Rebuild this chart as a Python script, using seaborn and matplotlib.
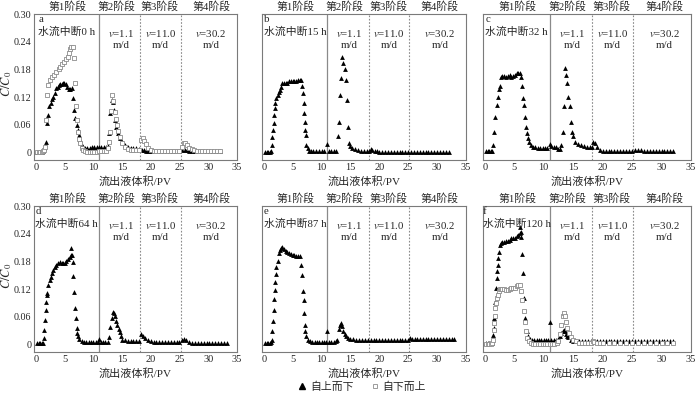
import numpy as np
import pandas as pd
import matplotlib
matplotlib.use("Agg")
import matplotlib.pyplot as plt
import matplotlib.transforms as mtransforms
from matplotlib.lines import Line2D
import seaborn as sns

sns.set_theme(style="white")
plt.rcParams["font.family"] = ["Liberation Serif", "Noto Sans CJK SC"]
plt.rcParams["mathtext.fontset"] = "stix"
plt.rcParams["axes.unicode_minus"] = False

# ---------------- data ----------------
panel_letters = ["a", "b", "c", "d", "e", "f"]
interrupt_hours = ["0 h", "15 h", "32 h", "64 h", "87 h", "120 h"]
stage_labels = ["第1阶段", "第2阶段", "第3阶段", "第4阶段"]
stage_label_x = [5.5, 14.0, 21.6, 30.5]
velocity_values = ["1.1", "11.0", "30.2"]
velocity_x = [14.8, 21.7, 30.5]
stage_bounds = [11.0, 18.2, 25.2]
x_ticks = [0, 5, 10, 15, 20, 25, 30, 35]
y_ticks = [0, 0.06, 0.12, 0.18, 0.24, 0.30]
y_tick_labels = ["0", "0.06", "0.12", "0.18", "0.24", "0.30"]
series_names = ["自上而下", "自下而上"]

a_down = [(0.2,.002),(0.5,.002),(0.8,.002),(1.1,.002),(1.3,.003),(1.5,.010),(1.7,.024),(1.9,.063),(2.1,.081),(2.3,.100),
          (2.6,.107),(2.8,.115),(3.0,.121),(3.3,.128),(3.6,.139),(3.8,.143),(4.0,.146),(4.3,.148),(4.5,.149),(4.8,.150),
          (5.0,.151),(5.2,.148),(5.4,.141),(5.7,.137),(6.0,.137),(6.3,.139),(6.5,.118),(6.7,.092),(6.9,.074),(7.1,.060),
          (7.3,.049),(7.5,.038),(7.7,.027),(8.0,.017),(8.3,.012),(8.6,.009),(9.0,.009),(9.4,.010),(9.8,.012),(10.2,.013),
          (10.6,.013),(11.0,.013),(11.4,.012),(11.8,.012),(12.2,.012),(12.5,.014),(12.8,.042),(13.0,.085),(13.2,.114),(13.4,.110),
          (13.6,.092),(13.8,.070),(14.0,.056),(14.3,.042),(14.6,.031),(15.0,.024),(15.5,.017),(16.0,.013),(16.5,.011),(17.0,.010),
          (17.5,.009),(18.0,.008),(18.4,.006),(18.8,.005),(19.2,.004),(19.6,.004),(20.0,.003),(20.5,.003),(21.0,.003),(21.5,.003),
          (22.0,.003),(22.5,.003),(23.0,.003),(23.5,.003),(24.0,.003),(24.5,.003),(25.0,.003),(25.5,.005),(25.9,.006),(26.3,.005),
          (26.7,.004),(27.2,.003),(27.7,.003),(28.2,.003),(28.7,.003),(29.2,.003),(29.7,.003),(30.2,.003),(30.7,.003),(31.2,.003),
          (31.7,.003),(32.0,.003)]
a_up = [(0.2,.002),(0.5,.002),(0.8,.002),(1.1,.002),(1.3,.003),(1.5,.006),(1.6,.012),(1.8,.070),(2.0,.125),(2.2,.146),
        (2.5,.157),(2.8,.163),(3.2,.168),(3.6,.175),(4.0,.182),(4.3,.186),(4.6,.191),(5.0,.197),(5.3,.202),(5.6,.208),
        (5.8,.215),(6.0,.224),(6.2,.229),(6.4,.229),(6.7,.204),(6.9,.150),(7.0,.100),(7.1,.070),(7.3,.045),(7.5,.030),
        (7.7,.020),(8.0,.010),(8.3,.005),(8.6,.003),(9.0,.002),(9.4,.002),(9.8,.002),(10.2,.002),(10.6,.002),(11.0,.003),
        (11.4,.003),(11.8,.003),(12.2,.004),(12.5,.010),(12.7,.022),(12.9,.045),(13.1,.090),(13.3,.125),(13.5,.112),(13.7,.088),
        (13.9,.072),(14.1,.060),(14.3,.047),(14.6,.033),(15.0,.021),(15.5,.012),(16.0,.008),(16.5,.006),(17.0,.005),(17.5,.005),
        (18.0,.005),(18.3,.028),(18.6,.031),(18.9,.025),(19.2,.018),(19.6,.011),(20.0,.006),(20.5,.004),(21.0,.003),(21.5,.003),
        (22.0,.003),(22.5,.003),(23.0,.003),(23.5,.003),(24.0,.003),(24.5,.003),(25.0,.003),(25.4,.012),(25.7,.020),(26.0,.021),
        (26.3,.016),(26.7,.011),(27.1,.007),(27.5,.005),(28.0,.003),(28.5,.003),(29.0,.003),(29.5,.003),(30.0,.003),(30.5,.003),
        (31.0,.003),(31.5,.003),(32.0,.003)]
b_down = [(0.2,.002),(0.5,.002),(0.8,.002),(1.1,.002),(1.3,.003),(1.4,.017),(1.5,.033),(1.6,.049),(1.7,.063),(1.8,.081),
          (1.9,.096),(2.0,.107),(2.2,.118),(2.4,.125),(2.6,.132),(2.8,.136),(3.0,.143),(3.2,.150),(3.5,.151),(3.8,.151),
          (4.1,.151),(4.4,.154),(4.7,.154),(5.0,.154),(5.3,.155),(5.6,.156),(5.9,.157),(6.2,.157),(6.5,.157),(6.6,.144),
          (6.8,.128),(6.9,.107),(7.0,.085),(7.1,.067),(7.2,.049),(7.3,.038),(7.4,.017),(7.6,.009),(7.8,.004),(8.1,.003),
          (8.5,.003),(9.0,.003),(9.5,.003),(10.0,.003),(10.5,.003),(11.0,.019),(11.3,.003),(11.7,.003),(12.1,.003),(12.5,.003),
          (12.8,.035),(13.0,.067),(13.2,.125),(13.4,.161),(13.6,.208),(13.8,.193),(14.0,.180),(14.2,.157),(14.4,.114),(14.6,.056),
          (14.8,.020),(15.0,.014),(15.3,.011),(15.8,.007),(16.3,.005),(16.8,.004),(17.3,.003),(17.8,.003),(18.2,.004),(18.5,.008),
          (18.8,.006),(19.2,.004),(19.6,.003),(20.0,.002),(20.5,.002),(21.0,.002),(21.5,.002),(22.0,.002),(22.5,.002),(23.0,.002),
          (23.5,.002),(24.0,.002),(24.5,.002),(25.0,.002),(25.5,.002),(26.0,.002),(26.5,.002),(27.0,.002),(27.5,.002),(28.0,.002),
          (28.5,.002),(29.0,.002),(29.5,.002),(30.0,.002),(30.5,.002),(31.0,.002),(31.5,.002),(32.0,.002)]
c_down = [(0.2,.003),(0.5,.003),(0.8,.003),(1.1,.003),(1.3,.004),(1.4,.017),(1.6,.045),(1.8,.078),(2.0,.103),(2.2,.121),
          (2.4,.137),(2.6,.144),(2.8,.163),(3.0,.166),(3.3,.165),(3.6,.164),(3.9,.166),(4.2,.167),(4.5,.163),(4.8,.165),
          (5.1,.168),(5.4,.172),(5.7,.173),(6.0,.172),(6.2,.163),(6.3,.144),(6.5,.118),(6.7,.103),(6.8,.078),(7.0,.056),
          (7.1,.042),(7.3,.031),(7.5,.024),(7.8,.017),(8.2,.013),(8.6,.012),(9.0,.011),(9.4,.011),(9.8,.011),(10.2,.011),
          (10.6,.011),(11.0,.019),(11.3,.015),(11.7,.013),(12.1,.012),(12.5,.008),(12.8,.007),(13.0,.017),(13.2,.045),(13.4,.100),
          (13.6,.183),(13.8,.168),(14.0,.150),(14.2,.121),(14.4,.100),(14.6,.067),(14.8,.045),(15.0,.035),(15.3,.024),(15.8,.019),
          (16.3,.016),(16.8,.014),(17.3,.013),(17.8,.013),(18.2,.013),(18.4,.024),(18.7,.020),(19.0,.013),(19.5,.006),(20.0,.003),
          (20.5,.003),(21.0,.003),(21.5,.003),(22.0,.003),(22.5,.003),(23.0,.003),(23.5,.003),(24.0,.003),(24.5,.003),(25.0,.004),
          (25.5,.005),(26.0,.005),(26.5,.005),(27.0,.004),(27.5,.003),(28.0,.003),(28.5,.003),(29.0,.003),(29.5,.003),(30.0,.003),
          (30.5,.003),(31.0,.003),(31.5,.003),(32.0,.003)]
d_down = [(0.2,.003),(0.5,.003),(0.8,.003),(1.1,.003),(1.3,.004),(1.4,.014),(1.5,.032),(1.6,.054),(1.7,.075),(1.8,.093),
          (1.9,.108),(2.0,.111),(2.2,.129),(2.4,.140),(2.6,.147),(2.8,.154),(3.0,.162),(3.3,.167),(3.6,.172),(3.9,.177),
          (4.2,.178),(4.5,.176),(4.8,.176),(5.1,.177),(5.3,.181),(5.6,.185),(5.9,.190),(6.1,.194),(6.2,.209),(6.3,.195),
          (6.4,.179),(6.5,.149),(6.7,.113),(6.8,.080),(7.0,.057),(7.1,.037),(7.2,.025),(7.4,.018),(7.6,.013),(8.0,.007),
          (8.4,.006),(8.8,.006),(9.2,.006),(9.6,.006),(10.0,.006),(10.4,.006),(10.8,.006),(11.0,.012),(11.3,.005),(11.7,.005),
          (12.1,.005),(12.5,.005),(12.8,.016),(13.0,.039),(13.2,.057),(13.4,.070),(13.6,.068),(13.8,.061),(14.0,.052),(14.2,.043),
          (14.4,.034),(14.6,.027),(14.8,.018),(15.0,.011),(15.5,.009),(16.0,.008),(16.5,.007),(17.0,.007),(17.5,.007),(18.0,.007),
          (18.3,.022),(18.6,.018),(19.0,.014),(19.5,.011),(20.0,.007),(20.5,.006),(21.0,.005),(21.5,.005),(22.0,.005),(22.5,.005),
          (23.0,.005),(23.5,.005),(24.0,.005),(24.5,.005),(25.0,.005),(25.5,.011),(25.8,.013),(26.2,.009),(26.7,.006),(27.2,.004),
          (27.7,.004),(28.2,.004),(28.7,.004),(29.2,.004),(29.7,.004),(30.2,.004),(30.7,.004),(31.2,.004),(31.7,.004),(32.2,.004),
          (32.7,.004),(33.2,.004)]
e_down = [(0.2,.004),(0.5,.004),(0.8,.004),(1.1,.004),(1.3,.005),(1.4,.011),(1.5,.029),(1.6,.052),(1.7,.075),(1.8,.098),
          (1.9,.118),(2.0,.136),(2.1,.152),(2.2,.169),(2.4,.181),(2.6,.198),(2.8,.205),(3.0,.210),(3.2,.212),(3.5,.207),
          (3.8,.203),(4.1,.201),(4.4,.198),(4.7,.196),(5.0,.194),(5.3,.193),(5.6,.192),(5.9,.192),(6.2,.191),(6.5,.172),
          (6.6,.151),(6.8,.116),(6.9,.097),(7.0,.068),(7.1,.043),(7.2,.029),(7.4,.018),(7.6,.011),(8.0,.007),(8.4,.006),
          (8.8,.006),(9.2,.006),(9.6,.006),(10.0,.006),(10.4,.006),(10.8,.006),(11.0,.029),(11.3,.006),(11.7,.006),(12.1,.006),
          (12.5,.007),(12.7,.011),(13.0,.034),(13.2,.043),(13.4,.047),(13.6,.040),(13.8,.030),(14.0,.024),(14.3,.018),(14.6,.014),
          (15.0,.013),(15.5,.012),(16.0,.011),(16.5,.011),(17.0,.011),(17.5,.011),(18.0,.011),(18.5,.011),(19.0,.011),(19.5,.011),
          (20.0,.011),(20.5,.011),(21.0,.011),(21.5,.011),(22.0,.011),(22.5,.011),(23.0,.011),(23.5,.011),(24.0,.011),(24.5,.011),
          (25.0,.011),(25.3,.014),(25.7,.013),(26.1,.013),(26.5,.012),(27.0,.012),(27.5,.012),(28.0,.012),(28.5,.012),(29.0,.012),
          (29.5,.012),(30.0,.012),(30.5,.012),(31.0,.012),(31.5,.012),(32.0,.012),(32.5,.012),(33.0,.012)]
f_down = [(0.2,.003),(0.5,.003),(0.8,.003),(1.1,.003),(1.3,.004),(1.4,.020),(1.5,.037),(1.6,.057),(1.8,.093),(1.9,.122),
          (2.0,.144),(2.1,.159),(2.2,.172),(2.3,.187),(2.4,.201),(2.6,.215),(2.8,.219),(3.0,.221),(3.3,.222),(3.6,.224),
          (3.9,.225),(4.2,.227),(4.5,.230),(4.8,.230),(5.1,.231),(5.4,.234),(5.7,.238),(5.9,.242),(6.0,.255),(6.1,.244),
          (6.2,.233),(6.3,.197),(6.5,.154),(6.7,.100),(6.9,.057),(7.1,.029),(7.3,.018),(7.6,.013),(8.0,.011),(8.4,.011),
          (8.8,.011),(9.2,.011),(9.6,.011),(10.0,.011),(10.4,.011),(10.8,.011),(11.0,.050),(11.3,.011),(11.7,.011),(12.1,.011),
          (12.5,.013),(12.8,.018),(13.0,.025),(13.2,.030),(13.4,.032),(13.6,.029),(13.8,.023),(14.0,.019),(14.2,.016),(14.6,.011),
          (15.0,.008),(15.5,.007),(16.0,.007),(16.5,.007),(17.0,.007),(17.5,.007),(18.0,.007),(18.5,.008),(19.0,.007),(19.5,.007),
          (20.0,.007),(20.5,.007),(21.0,.007),(21.5,.007),(22.0,.007),(22.5,.007),(23.0,.007),(23.5,.007),(24.0,.007),(24.5,.007),
          (25.0,.007),(25.5,.007),(26.0,.008),(26.5,.007),(27.0,.007),(27.5,.007),(28.0,.007),(28.5,.007),(29.0,.007),(29.5,.007),
          (30.0,.007),(30.5,.007),(31.0,.007),(31.5,.007),(32.0,.007)]
f_up = [(0.2,.002),(0.5,.002),(0.8,.002),(1.1,.002),(1.3,.003),(1.4,.011),(1.5,.032),(1.6,.047),(1.7,.061),(1.8,.079),
        (1.9,.090),(2.0,.100),(2.2,.108),(2.4,.115),(2.6,.121),(2.8,.121),(3.0,.121),(3.3,.120),(3.6,.118),(3.9,.119),
        (4.2,.120),(4.5,.122),(4.8,.122),(5.1,.123),(5.4,.126),(5.7,.128),(6.0,.130),(6.2,.115),(6.4,.097),(6.6,.072),
        (6.8,.050),(7.0,.029),(7.2,.014),(7.5,.007),(7.8,.004),(8.2,.002),(8.6,.002),(9.0,.002),(9.4,.002),(9.8,.002),
        (10.2,.002),(10.6,.002),(11.0,.002),(11.4,.002),(11.8,.002),(12.2,.003),(12.5,.007),(12.8,.022),(13.0,.043),(13.2,.061),
        (13.4,.068),(13.6,.061),(13.8,.050),(14.0,.037),(14.3,.025),(14.6,.016),(15.0,.011),(15.5,.007),(16.0,.004),(16.5,.003),
        (17.0,.003),(17.5,.003),(18.0,.003),(18.3,.008),(18.6,.006),(19.0,.004),(19.5,.003),(20.0,.003),(21.0,.003),(22.0,.003),
        (23.0,.003),(24.0,.003),(25.0,.003),(26.0,.003),(27.0,.003),(28.0,.003),(29.0,.003),(30.0,.003),(31.0,.003),(32.0,.003)]

panel_down = [a_down, b_down, c_down, d_down, e_down, f_down]
panel_up = [a_up, None, None, None, None, f_up]

# ---------------- build long table ----------------
rows = []
for i, letter in enumerate(panel_letters):
    for name, ser in zip(series_names, [panel_down[i], panel_up[i]]):
        if ser is None:
            continue
        for x, y in ser:
            rows.append({"panel": letter, "series": name, "pv": x, "c": y})
df = pd.DataFrame(rows)

# ---------------- figure ----------------
W, H = 700, 395
fig = plt.figure(figsize=(W / 100, H / 100), dpi=100)
col_left = [34, 262, 483]
col_width = [203, 204, 208]
row_top = [14, 206]
ax_h = 146

spine_c = "#7a7a7a"
line_c = "#8a8a8a"
fs = 7.8

axes = []
for i, letter in enumerate(panel_letters):
    r, c = divmod(i, 3)
    left = col_left[c] / W
    bottom = 1 - (row_top[r] + ax_h) / H
    ax = fig.add_axes([left, bottom, col_width[c] / W, ax_h / H])
    axes.append(ax)
    sub = df[df["panel"] == letter]
    down = sub[sub["series"] == series_names[0]]
    up = sub[sub["series"] == series_names[1]]
    sns.scatterplot(data=down, x="pv", y="c", ax=ax, marker="^", color="black",
                    s=12, linewidth=0, legend=False, zorder=3)
    if len(up):
        sns.scatterplot(data=up, x="pv", y="c", ax=ax, marker="s", color="white",
                        edgecolor="#8c8c8c", s=8, linewidth=0.6, legend=False, zorder=4)
    ax.axvline(stage_bounds[0], color=line_c, lw=0.9, zorder=1)
    for b in stage_bounds[1:]:
        ax.axvline(b, color=line_c, lw=0.8, ls=(0, (1.5, 1.5)), zorder=1)

    ax.set_xlim(-0.3, 35)
    ax.set_ylim(-0.016, 0.30)
    ax.set_xticks(x_ticks)
    ax.set_xticklabels([str(t) for t in x_ticks], fontsize=7.5)
    ax.set_yticks(y_ticks)
    if c == 0:
        ax.set_yticklabels(y_tick_labels, fontsize=7.3)
        ax.set_ylabel(r"$C/C_0$", fontsize=9, va="center")
        ax.yaxis.set_label_coords(-0.135, 0.52)
    else:
        ax.set_yticklabels([])
        ax.set_ylabel("")
    ax.set_xlabel("流出液体积/PV", fontsize=8, labelpad=3)
    ax.tick_params(direction="in", length=2.5, width=0.6, color=spine_c, pad=2)
    for sp in ax.spines.values():
        sp.set_color(spine_c)
        sp.set_linewidth(0.8)
    ax.grid(False)

    trans = mtransforms.blended_transform_factory(ax.transData, ax.transAxes)
    for sx, lab in zip(stage_label_x, stage_labels):
        ax.text(sx, 1.012, lab, transform=trans, ha="center", va="bottom", fontsize=fs)
    ax.text(5.4, 0.297, f"{letter}\n水流中断{interrupt_hours[i]}", ha="center", va="top",
            multialignment="left", fontsize=fs, linespacing=1.3, zorder=5)
    for vx, vv in zip(velocity_x, velocity_values):
        ax.text(vx, 0.269, r"$v$=" + vv + "\nm/d", ha="center", va="top",
                fontsize=fs, linespacing=1.3)

handles = [Line2D([], [], marker="^", ls="", color="black", markersize=4),
           Line2D([], [], marker="s", ls="", markerfacecolor="white",
                  markeredgecolor="#8c8c8c", markeredgewidth=0.6, markersize=3.5)]
fig.legend(handles, series_names, loc="center", bbox_to_anchor=(362 / W, 1 - 387 / H),
           ncol=2, frameon=False, fontsize=fs, handletextpad=0.3, columnspacing=1.6,
           handlelength=0.8, borderaxespad=0)

fig.savefig("out.png", dpi=100)
